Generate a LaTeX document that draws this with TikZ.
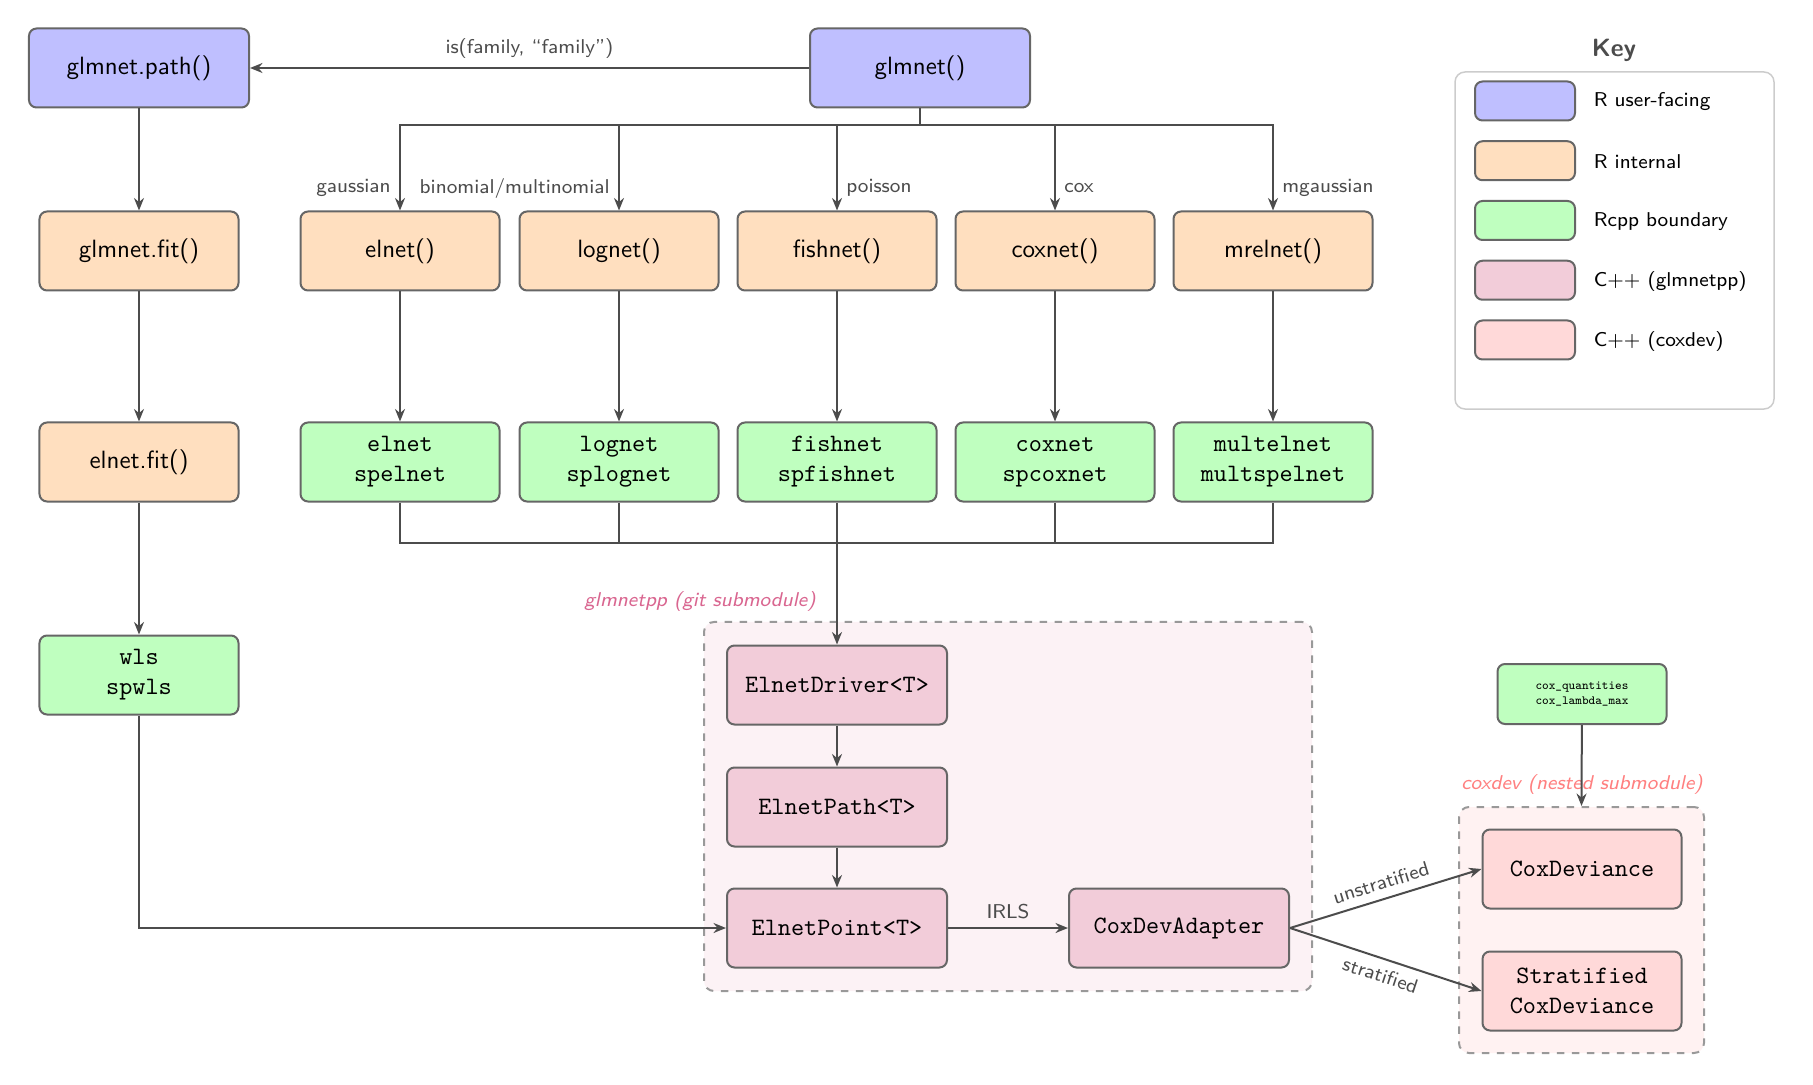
\documentclass[tikz,border=0pt]{standalone}
\usetikzlibrary{arrows.meta}
\definecolor{ruser}{HTML}{BFBFFF}
\definecolor{rint}{HTML}{FFDFBF}
\definecolor{rcpp}{HTML}{BFFFBF}
\definecolor{cpp}{HTML}{F2CCD9}
\definecolor{cox}{HTML}{FFD9D9}
\definecolor{cppbg}{HTML}{FCF2F5}
\definecolor{coxbg}{HTML}{FFF2F2}
\definecolor{cpplab}{HTML}{D96690}
\definecolor{coxlab}{HTML}{FF8080}
\begin{document}
\begin{tikzpicture}[x=0.4pt,y=-0.4pt,font=\sffamily]
\tikzset{
  box/.style={draw=black!60,thick,rounded corners=3pt,minimum width=79.6pt,minimum height=31.6pt,align=center},
  userbox/.style={box,fill=ruser,minimum width=88pt},
  rintbox/.style={box,fill=rint},
  rcppbox/.style={box,fill=rcpp,font=\ttfamily},
  cppbox/.style={box,fill=cpp,font=\ttfamily,minimum width=88pt},
  coxbox/.style={box,fill=cox,font=\ttfamily},
  group/.style={draw=black!40,thick,dashed,rounded corners=4pt},
  flow/.style={-{Stealth[length=5pt,width=4pt]},thick,draw=black!70},
  wire/.style={thick,draw=black!70},
  elabel/.style={font=\sffamily\footnotesize,text=black!70},
  swatch/.style={draw=black!60,thick,rounded corners=3pt,minimum width=40pt,minimum height=15.6pt},
}
\useasboundingbox (0,0) rectangle (1813,1085);
% submodule groups
\node[group,fill=cppbg,minimum width=243.2pt,minimum height=147.6pt] (gpp) at (1008,806.5) {};
\node[group,fill=coxbg,minimum width=98pt,minimum height=98.4pt] (cdev) at (1581.5,930) {};
\node[font=\sffamily\itshape\footnotesize,text=cpplab] (gpp-lab) at (700,601) {glmnetpp (git submodule)};
\node[font=\sffamily\itshape\footnotesize,text=coxlab] (cdev-lab) at (1582,784) {coxdev (nested submodule)};
% R side
\node[userbox] (glmpath) at (139,68) {glmnet.path()};
\node[userbox] (glmnet) at (920,68) {glmnet()};
\node[rintbox] (glmfit) at (139,251) {glmnet.fit()};
\node[rintbox] (elnet-r) at (400,251) {elnet()};
\node[rintbox] (lognet-r) at (619,251) {lognet()};
\node[rintbox] (fishnet-r) at (837,251) {fishnet()};
\node[rintbox] (coxnet-r) at (1055,251) {coxnet()};
\node[rintbox] (mrelnet-r) at (1273,251) {mrelnet()};
\node[rintbox] (elnetfit) at (139,462) {elnet.fit()};
% Rcpp entry points
\node[rcppbox] (elnet-c) at (400,462) {elnet\\spelnet};
\node[rcppbox] (lognet-c) at (619,462) {lognet\\splognet};
\node[rcppbox] (fishnet-c) at (837,462) {fishnet\\spfishnet};
\node[rcppbox] (coxnet-c) at (1055,462) {coxnet\\spcoxnet};
\node[rcppbox] (mrelnet-c) at (1273,462) {multelnet\\multspelnet};
\node[rcppbox] (wls) at (139,675) {wls\\spwls};
\node[rcppbox,font=\ttfamily\tiny,minimum width=67.6pt,minimum height=24pt] (cq) at (1582,694) {cox\_quantities\\cox\_lambda\_max};
% C++
\node[cppbox] (driver) at (837,685) {ElnetDriver<T>};
\node[cppbox] (path) at (837,807) {ElnetPath<T>};
\node[cppbox] (point) at (837,928) {ElnetPoint<T>};
\node[cppbox] (adapter) at (1179,928) {CoxDevAdapter};
\node[coxbox] (cxd) at (1582,869) {CoxDeviance};
\node[coxbox] (scxd) at (1582,991) {Stratified\\CoxDeviance};
% connectors
\draw[flow] (glmnet) -- node[above,elabel]{is(family, “family”)} (glmpath);
\coordinate (bus1) at (920,125);
\draw[wire] (glmnet.south) -- (bus1);
\foreach \n/\lab/\s in {elnet/gaussian/left,lognet/binomial\slash multinomial/left,fishnet/poisson/right,coxnet/cox/right,mrelnet/mgaussian/right}
  \draw[flow] (bus1) -| node[pos=0.87,\s,elabel]{\lab} (\n-r.north);
\foreach \n in {elnet,lognet,fishnet,coxnet,mrelnet}
  \draw[flow] (\n-r) -- (\n-c);
\coordinate (bus2) at (837,543);
\foreach \n in {elnet,lognet,coxnet,mrelnet}
  \draw[wire] (\n-c.south) |- (bus2);
\draw[flow] (fishnet-c) -- (driver);
\draw[flow] (glmpath) -- (glmfit);
\draw[flow] (glmfit) -- (elnetfit);
\draw[flow] (elnetfit) -- (wls);
\draw[flow] (wls) |- (point);
\draw[flow] (driver) -- (path);
\draw[flow] (path) -- (point);
\draw[flow] (point) -- node[above,elabel]{IRLS} (adapter);
\draw[flow] (adapter.east) -- node[above,sloped,elabel]{unstratified} (cxd.west);
\draw[flow] (adapter.east) -- node[below,sloped,elabel]{stratified} (scxd.west);
\draw[flow] (cq) -- (cdev.north);
% key
\node[font=\sffamily\bfseries,text=black!70] (key-title) at (1614,50) {Key};
\node[draw=black!20,semithick,rounded corners=4pt,minimum width=127.6pt,minimum height=134.8pt] (key) at (1614.5,240.5) {};
\foreach \c/\t [count=\i] in {ruser/R user-facing,rint/R internal,rcpp/Rcpp boundary,cpp/C++ (glmnetpp),cox/C++ (coxdev)}{
  \node[swatch,fill=\c] (sw\i) at (1525,{101+59.75*(\i-1)}) {};
  \node[anchor=west,font=\sffamily\footnotesize] (kl\i) at (1585,{102+59.75*(\i-1)}) {\t};
}
\end{tikzpicture}
\end{document}
